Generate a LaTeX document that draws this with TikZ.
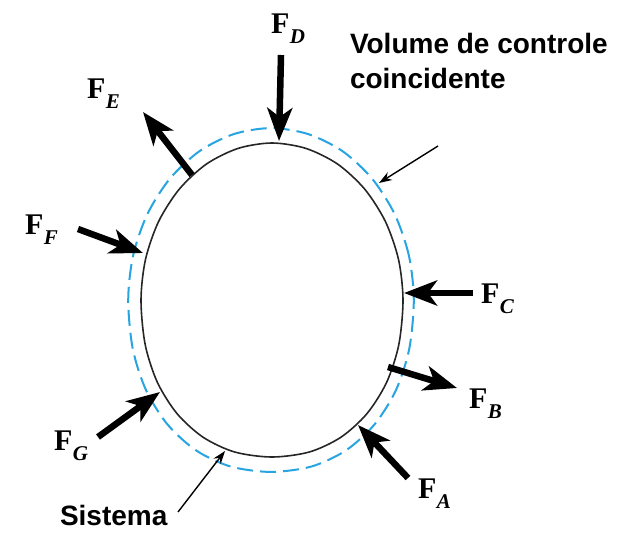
\documentclass[tikz,border=0pt]{standalone}
\usepackage{fontspec}
\usetikzlibrary{arrows.meta}
\newfontfamily\tnr{Liberation Serif}
\newfontfamily\arl{Liberation Sans}
\definecolor{cvblue}{RGB}{40,165,225}
\newcommand{\Flab}[1]{{\tnr\fontsize{30}{30}\selectfont\textbf{F}\kern0.5pt\raisebox{-10pt}{\fontsize{21}{21}\selectfont\bfseries\itshape #1}}}
\newcommand{\eggcoords}{(131,0) (126.5,-40.6) (113.4,-78.5) (92.6,-111) (65.5,-136) (33.9,-151.6) (0,-157) (-33.9,-151.6) (-65.5,-136) (-92.6,-111) (-113.4,-78.5) (-126.5,-40.6) (-131,0) (-126.8,44.7) (-114.6,82.4) (-94.9,113.7) (-68.8,137.3) (-37.3,152.0) (0,157) (37.3,152.0) (68.8,137.3) (94.9,113.7) (114.6,82.4) (126.8,44.7)}
\tikzset{
  force/.style={line width=6.5pt, -{Stealth[length=33pt,width=25pt,inset=9pt]}},
  pointer/.style={line width=1.4pt, -{Stealth[length=13pt,width=9pt]}},
  flabel/.style={anchor=base west, inner sep=0pt, outer sep=0pt},
  txt/.style={anchor=base west, inner sep=0pt, outer sep=0pt, font=\arl\bfseries\fontsize{28}{35}\selectfont, align=left},
  sysline/.style={line width=1.6pt, draw=black!85},
  cvline/.style={line width=2pt, draw=cvblue, dash pattern=on 16pt off 7pt}
}
\begin{document}
\begin{tikzpicture}[x=1pt,y=-1pt]
\useasboundingbox (0,0) rectangle (617,533);
% system boundary and control volume
\draw[sysline, shift={(272,300)}] plot[smooth cycle] coordinates {\eggcoords};
\draw[cvline, shift={(271,300)}, xscale=1.09, yscale=1.095] plot[smooth cycle] coordinates {\eggcoords};
% arrow coordinates
\coordinate (Dt) at (281,55);  \coordinate (Dh) at (279,141);
\coordinate (Et) at (192,175); \coordinate (Eh) at (143,112);
\coordinate (Ft) at (78,229);  \coordinate (Fh) at (143,253);
\coordinate (Ct) at (473,293); \coordinate (Ch) at (404,293);
\coordinate (Bt) at (388,367); \coordinate (Bh) at (457,388);
\coordinate (At) at (408,478); \coordinate (Ah) at (358,425);
\coordinate (Gt) at (98,437);  \coordinate (Gh) at (160,392);
\coordinate (Vt) at (438,146); \coordinate (Vh) at (379,183);
\coordinate (St) at (178,512); \coordinate (Sh) at (225,451);
% forces
\draw[force] (Dt) -- (Dh);
\draw[force] (Et) -- (Eh);
\draw[force] (Ft) -- (Fh);
\draw[force] (Ct) -- (Ch);
\draw[force] (Bt) -- (Bh);
\draw[force] (At) -- (Ah);
\draw[force] (Gt) -- (Gh);
% pointers
\draw[pointer] (Vt) -- (Vh);
\draw[pointer] (St) -- (Sh);
% labels
\node[flabel] (lD) at (271,33) {\Flab{D}};
\node[flabel] (lE) at (87,98) {\Flab{E}};
\node[flabel] (lF) at (25,234) {\Flab{F}};
\node[flabel] (lC) at (481,303) {\Flab{C}};
\node[flabel] (lB) at (469,408) {\Flab{B}};
\node[flabel] (lA) at (418,498) {\Flab{A}};
\node[flabel] (lG) at (54,450) {\Flab{G}};
\node[txt] (vc) at (350,88) {Volume de controle\\coincidente};
\node[txt] (sis) at (60,525) {Sistema};
\end{tikzpicture}
\end{document}
